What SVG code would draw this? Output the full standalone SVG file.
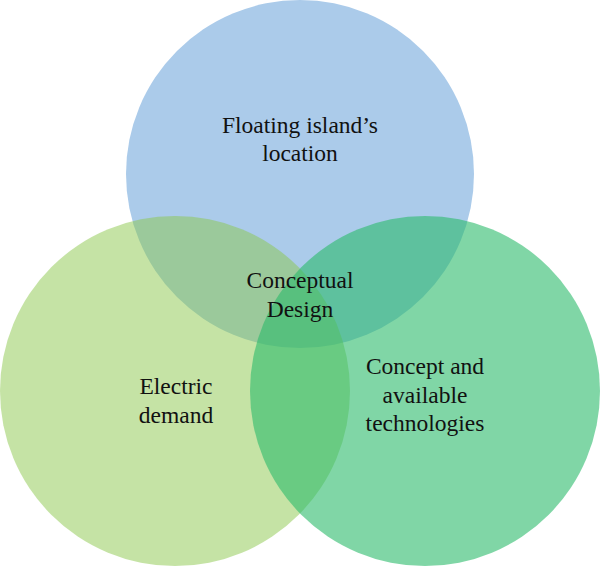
<svg xmlns="http://www.w3.org/2000/svg" width="600" height="566" viewBox="0 0 600 566">
<style>
text{font-family:"Liberation Serif","Times New Roman",serif;font-size:23.5px;fill:#111;text-anchor:middle}
</style>
<rect width="600" height="566" fill="#fff"/>
<g id="node-location"><circle cx="300" cy="174" r="174" fill="#abcbea"/></g>
<g id="node-demand"><circle cx="175" cy="391" r="175" fill="#8bc74b" fill-opacity="0.5"/></g>
<g id="node-technologies"><circle cx="425" cy="391" r="175" fill="#2bbb6b" fill-opacity="0.6"/></g>
<g id="connectors"></g>
<g id="labels">
<text x="300" y="133">Floating island’s</text>
<text x="300" y="161">location</text>
<text x="300" y="288">Conceptual</text>
<text x="300" y="317">Design</text>
<text x="176" y="394">Electric</text>
<text x="176" y="423">demand</text>
<text x="425" y="374">Concept and</text>
<text x="425" y="403">available</text>
<text x="425" y="431">technologies</text>
</g>
</svg>
